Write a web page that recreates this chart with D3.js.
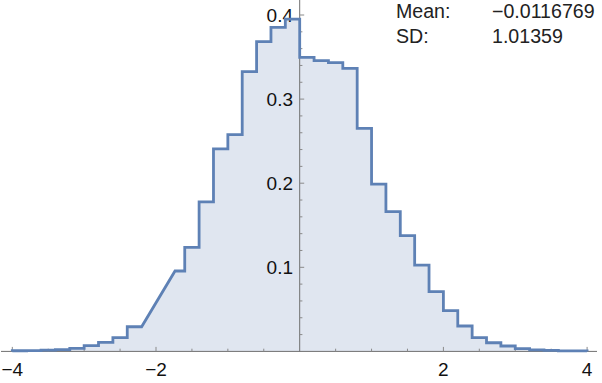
<!DOCTYPE html>
<html>
<head>
<meta charset="utf-8">
<script src="https://cdn.jsdelivr.net/npm/d3@7"></script>
<style>
  html, body { margin: 0; padding: 0; background: #fff; }
  svg { display: block; }
  text { font-family: "Liberation Sans", Arial, sans-serif; }
</style>
</head>
<body>
<svg id="chart" width="602" height="383"></svg>
<script>
// Histogram bin edges and density heights (null = gap bridged by straight line)
const binEdges = [-4, -3.8, -3.6, -3.4, -3.2, -3.0, -2.8, -2.6, -2.4, -2.2, -1.735, -1.6, -1.4, -1.2, -1.0, -0.8, -0.6, -0.4, -0.2, 0,
                  0.2, 0.4, 0.6, 0.8, 1.0, 1.2, 1.4, 1.6, 1.8, 2.0, 2.2, 2.4, 2.6, 2.8, 3.0, 3.2, 3.4, 3.6, 3.8, 4.0];
const density = [0.0008, 0.001, 0.0015, 0.002, 0.0037, 0.0068, 0.0108, 0.0163, 0.0293, null,
                 0.0956, 0.1238, 0.1777, 0.2407, 0.2577, 0.3326, 0.3683, 0.3854, 0.3952,
                 0.3497, 0.3457, 0.3433, 0.3366, 0.2653, 0.199, 0.1661, 0.1376, 0.1027, 0.071, 0.0484,
                 0.0302, 0.0163, 0.0103, 0.0064, 0.0032, 0.0017, 0.0013, 0.0007, 0.0007];
const xTickLabels = [-4, -2, 2, 4];
const xMinorTicks = [-3.5, -3, -2.5, -1.5, -1, -0.5, 0.5, 1, 1.5, 2.5, 3, 3.5];
const yTickLabels = [0.1, 0.2, 0.3, 0.4];
const yMinorTicks = [0.02, 0.04, 0.06, 0.08, 0.12, 0.14, 0.16, 0.18, 0.22, 0.24, 0.26, 0.28, 0.32, 0.34, 0.36, 0.38];
const statNames = ["Mean:", "SD:"];
const statValues = ["\u22120.0116769", "1.01359"];

const svg = d3.select("#chart");
const x = d3.scaleLinear().domain([-4, 4]).range([12.3, 587.1]);
const y = d3.scaleLinear().domain([0, 0.4]).range([351.4, 15.0]);

// build stair-step vertices
const pts = [[binEdges[0], 0]];
density.forEach((v, i) => {
  if (v === null) return;
  pts.push([binEdges[i], v]);
  pts.push([binEdges[i + 1], v]);
});
pts.push([binEdges[binEdges.length - 1], 0]);

const area = d3.area().x(d => x(d[0])).y0(y(0)).y1(d => y(d[1]));
const line = d3.line().x(d => x(d[0])).y(d => y(d[1]));

svg.append("path").attr("d", area(pts)).attr("fill", "#e0e6f0").attr("stroke", "none");

// axes
const axisColor = "#6f6f6f";
const tickColor = "#8a8a8a";
svg.append("line").attr("x1", 1).attr("x2", 597).attr("y1", y(0)).attr("y2", y(0))
  .attr("stroke", axisColor).attr("stroke-width", 1);
svg.append("line").attr("x1", x(0)).attr("x2", x(0)).attr("y1", y(0)).attr("y2", 0)
  .attr("stroke", axisColor).attr("stroke-width", 1);

const gx = svg.append("g");
gx.selectAll("line.maj").data(xTickLabels).join("line")
  .attr("x1", d => x(d)).attr("x2", d => x(d)).attr("y1", y(0)).attr("y2", y(0) - 4.5)
  .attr("stroke", tickColor).attr("stroke-width", 1);
gx.selectAll("line.min").data(xMinorTicks).join("line").attr("class", "min")
  .attr("x1", d => x(d)).attr("x2", d => x(d)).attr("y1", y(0)).attr("y2", y(0) - 2.7)
  .attr("stroke", tickColor).attr("stroke-width", 1);
gx.selectAll("text").data(xTickLabels).join("text")
  .attr("x", d => x(d)).attr("y", 376).attr("text-anchor", "middle")
  .attr("font-size", 19).attr("fill", "#111")
  .text(d => d < 0 ? "\u2212" + Math.abs(d) : String(d));

const gy = svg.append("g");
gy.selectAll("line.maj").data(yTickLabels).join("line").attr("class", "maj")
  .attr("x1", x(0)).attr("x2", x(0) + 4.5).attr("y1", d => y(d)).attr("y2", d => y(d))
  .attr("stroke", tickColor).attr("stroke-width", 1);
gy.selectAll("line.min").data(yMinorTicks).join("line").attr("class", "min")
  .attr("x1", x(0)).attr("x2", x(0) + 2.7).attr("y1", d => y(d)).attr("y2", d => y(d))
  .attr("stroke", tickColor).attr("stroke-width", 1);
gy.selectAll("text").data(yTickLabels).join("text")
  .attr("x", 293).attr("y", d => y(d)).attr("dy", "0.36em").attr("text-anchor", "end")
  .attr("font-size", 19).attr("fill", "#111")
  .text(d => d3.format(".1f")(d));

svg.append("path").attr("d", line(pts)).attr("fill", "none")
  .attr("stroke", "#5e81b5").attr("stroke-width", 2.8).attr("stroke-linejoin", "miter");

// stats
const gs = svg.append("g");
gs.selectAll("text.n").data(statNames).join("text").attr("class", "n")
  .attr("x", 396).attr("y", (d, i) => 18 + i * 24.5).attr("font-size", 19.6).attr("fill", "#222")
  .text(d => d);
gs.selectAll("text.v").data(statValues).join("text").attr("class", "v")
  .attr("x", 492).attr("y", (d, i) => 18 + i * 24.5).attr("font-size", 19.6).attr("fill", "#222")
  .text(d => d);
</script>
</body>
</html>
